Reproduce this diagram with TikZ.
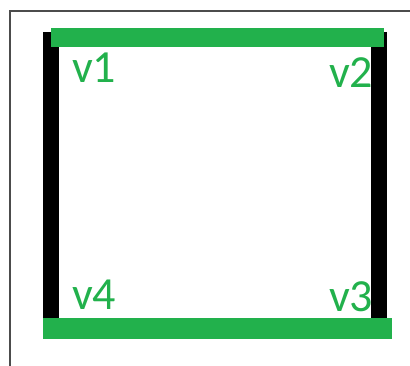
\documentclass[tikz,border=0pt]{standalone}
\usepackage{fontspec}
\setmainfont{Carlito}
\definecolor{paintgreen}{RGB}{34,177,76}

\begin{document}
\begin{tikzpicture}[x=1pt, y=-1pt,
	lbl/.style={text=paintgreen, font=\fontsize{46}{50}\selectfont, inner sep=0pt, anchor=base west},
	blackbar/.style={black, line width=16pt},
	greenbar/.style={paintgreen, line width=20pt}]
	\useasboundingbox (0,0) rectangle (410,366);
	\draw[gray!60!black, line width=2pt] (10,366) -- (10,11) -- (410,11);
	% vertical sides
	\coordinate (l1) at (51,32);
	\coordinate (l4) at (51,318);
	\coordinate (r2) at (378.5,32);
	\coordinate (r3) at (378.5,318);
	\draw[blackbar] (l1) -- (l4);
	\draw[blackbar] (r2) -- (r3);
	% horizontal sides
	\coordinate (t1) at (51,37.5);
	\coordinate (t2) at (384,37.5);
	\coordinate (b4) at (43,328.5);
	\coordinate (b3) at (392,328.5);
	\draw[greenbar, line width=19pt] (t1) -- (t2);
	\draw[greenbar, line width=21pt] (b4) -- (b3);
	% labels
	\node[lbl] (v1) at (72,83) {v1};
	\node[lbl] (v2) at (329,88) {v2};
	\node[lbl] (v3) at (329,312) {v3};
	\node[lbl] (v4) at (72,310) {v4};
\end{tikzpicture}
\end{document}
